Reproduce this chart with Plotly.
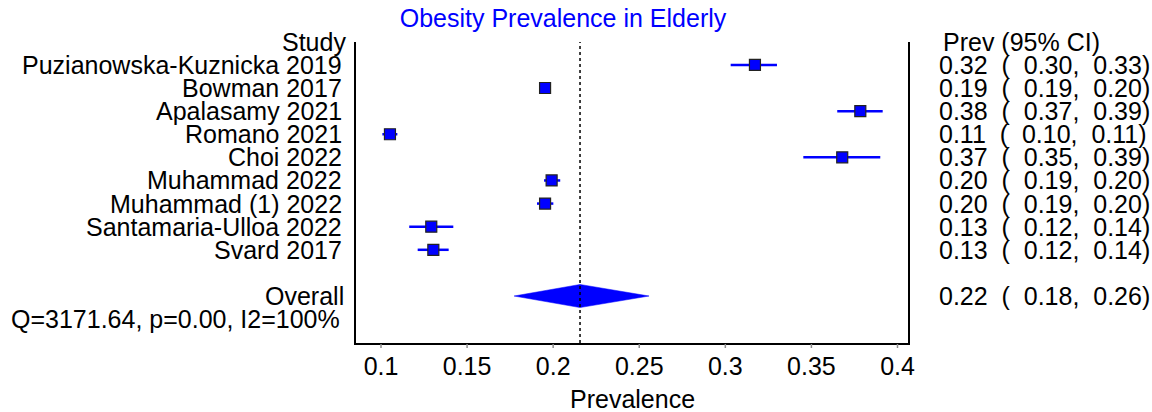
import plotly.graph_objects as go

studies = ["Puzianowska-Kuznicka 2019", "Bowman 2017", "Apalasamy 2021", "Romano 2021",
           "Choi 2022", "Muhammad 2022", "Muhammad (1) 2022", "Santamaria-Ulloa 2022", "Svard 2017"]
prev = [0.3172, 0.1953, 0.3784, 0.1052, 0.3679, 0.1991, 0.1953, 0.1292, 0.1304]
ci_low = [0.3031, 0.1925, 0.3650, 0.1008, 0.3453, 0.1947, 0.1906, 0.1164, 0.1213]
ci_high = [0.3300, 0.1985, 0.3914, 0.1095, 0.3900, 0.2041, 0.2001, 0.1420, 0.1393]
ci_text = ["0.32  (  0.30,  0.33)", "0.19  (  0.19,  0.20)", "0.38  (  0.37,  0.39)",
           "0.11  (  0.10,  0.11)", "0.37  (  0.35,  0.39)", "0.20  (  0.19,  0.20)",
           "0.20  (  0.19,  0.20)", "0.13  (  0.12,  0.14)", "0.13  (  0.12,  0.14)"]
overall_es, overall_low, overall_high = 0.2156, 0.1773, 0.2557
overall_text = "0.22  (  0.18,  0.26)"
het_text = "Q=3171.64, p=0.00, I2=100%"
tick_vals = [0.1, 0.15, 0.2, 0.25, 0.3, 0.35, 0.4]
tick_labels = ["0.1", "0.15", "0.2", "0.25", "0.3", "0.35", "0.4"]

FONT = "Arial, Liberation Sans, Helvetica, sans-serif"
FS = 25
rows = list(range(1, len(studies) + 1))
overall_row = len(studies) + 2

fig = go.Figure()
for r, lo, hi in zip(rows, ci_low, ci_high):
    fig.add_trace(go.Scatter(x=[lo, hi], y=[r, r], mode="lines",
                             line=dict(color="#0000FF", width=2.5), hoverinfo="skip",
                             showlegend=False))
fig.add_trace(go.Scatter(x=prev, y=rows, mode="markers",
                         marker=dict(symbol="square", size=11, color="#0000FF",
                                     line=dict(color="#222222", width=1.2)),
                         showlegend=False))
h = 0.5
fig.add_trace(go.Scatter(x=[overall_low, overall_es, overall_high, overall_es, overall_low],
                         y=[overall_row, overall_row - h, overall_row, overall_row + h, overall_row],
                         mode="lines", fill="toself", fillcolor="#0000FF",
                         line=dict(color="#0000FF", width=0.5), showlegend=False))

fig.add_shape(type="line", xref="x", yref="paper", x0=overall_es, x1=overall_es, y0=0, y1=1,
              line=dict(color="black", width=1.5, dash="dot"))

L, R, T, B = 356, 244, 42, 69
W, H = 1152, 412
pw = W - L - R
ph = H - T - B

def px(xp):
    return (xp - L) / pw

def py(yp):
    return (H - B - yp) / ph

# small grey tick marks below the axis
for tv in tick_vals:
    fig.add_shape(type="line", xref="x", yref="paper", x0=tv, x1=tv, y0=-1 / ph, y1=-5 / ph,
                  line=dict(color="#8c8c8c", width=1.5))

ann = []
ann.append(dict(text="Study", x=px(348), y=py(42), xref="paper", yref="paper", xanchor="right",
                yanchor="middle", showarrow=False))
ann.append(dict(text="Prev (95% CI)", x=px(941), y=py(42), xref="paper", yref="paper", xanchor="left",
                yanchor="middle", showarrow=False))
for r, s, t in zip(rows, studies, ci_text):
    ann.append(dict(text=s, x=px(344), y=r, xref="paper", yref="y", xanchor="right",
                    yanchor="middle", showarrow=False))
    ann.append(dict(text=t, x=px(937), y=r, xref="paper", yref="y", xanchor="left",
                    yanchor="middle", showarrow=False))
ann.append(dict(text="Overall", x=px(346), y=overall_row, xref="paper", yref="y", xanchor="right",
                yanchor="middle", showarrow=False))
ann.append(dict(text=overall_text, x=px(937), y=overall_row, xref="paper", yref="y", xanchor="left",
                yanchor="middle", showarrow=False))
ann.append(dict(text=het_text, x=px(9), y=overall_row + 1, xref="paper", yref="y", xanchor="left",
                yanchor="middle", showarrow=False))
ann.append(dict(text="Prevalence", x=0.5, y=py(399), xref="paper", yref="paper", xanchor="center",
                yanchor="middle", showarrow=False))

row_px = 23.08
y_top = -(T - 42.2) / row_px
y_bot = (H - B - 42.2) / row_px

fig.update_layout(
    width=W, height=H, margin=dict(l=L, r=R, t=T, b=B, autoexpand=False),
    paper_bgcolor="white", plot_bgcolor="white",
    font=dict(family=FONT, size=FS, color="black"),
    title=dict(text="Obesity Prevalence in Elderly", x=563 / W, y=1 - 18 / H,
               xanchor="center", yanchor="middle", xref="container", yref="container",
               font=dict(family=FONT, size=FS, color="#0000FF")),
    annotations=ann,
    xaxis=dict(range=[0.08548, 0.4061], tickvals=tick_vals, ticktext=tick_labels,
               showgrid=False, zeroline=False, showline=True, linecolor="black", linewidth=2,
               ticks="", tickfont=dict(family=FONT, size=FS)),
    yaxis=dict(range=[y_bot, y_top], showgrid=False, zeroline=False, showticklabels=False,
               showline=True, mirror=True, linecolor="black", linewidth=2, ticks=""),
)

fig.write_html("out.html", config={"displayModeBar": False},
               post_script="document.body.style.margin='0';document.body.style.padding='0';")
